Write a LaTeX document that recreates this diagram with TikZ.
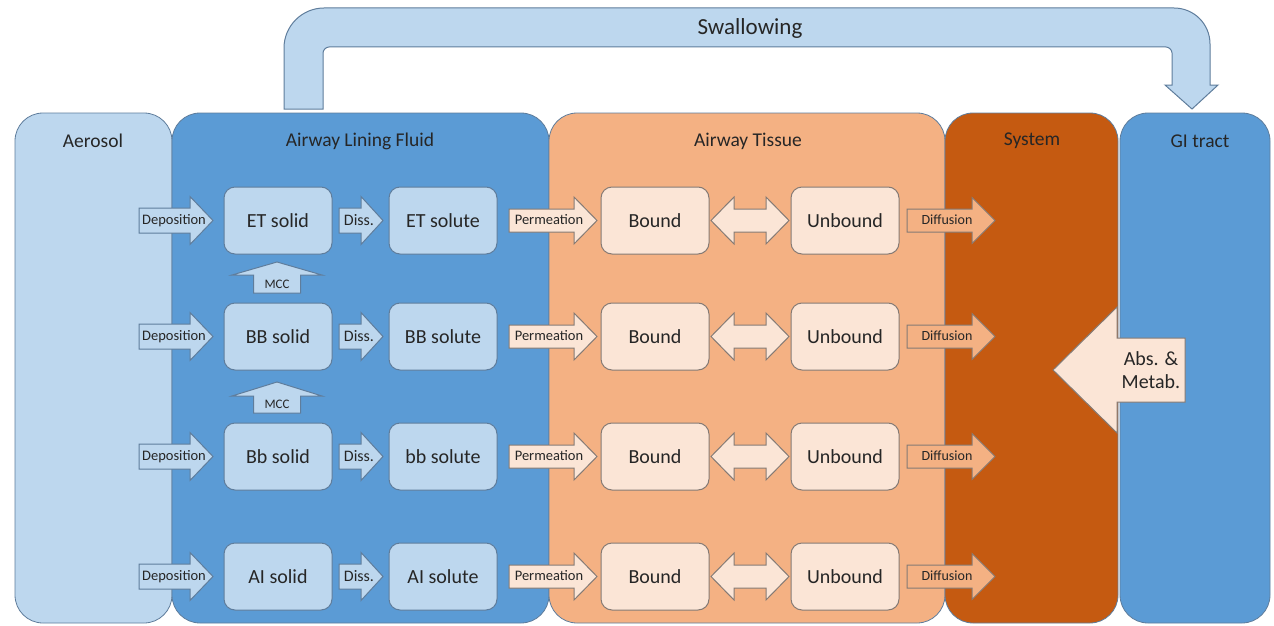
\documentclass[tikz,border=0pt]{standalone}
\usepackage{fontspec}
\setmainfont{Carlito}
\definecolor{aer}{HTML}{BDD7EE}
\definecolor{alf}{HTML}{5B9BD5}
\definecolor{tis}{HTML}{F4B183}
\definecolor{sys}{HTML}{C55A11}
\definecolor{pch}{HTML}{FBE5D6}
\definecolor{edge}{HTML}{5F7D9C}
\definecolor{pedge}{HTML}{857A74}
\definecolor{txt}{HTML}{262626}
\tikzset{
  panel/.style={draw=edge, line width=0.8pt, rounded corners=28pt},
  ptitle/.style={font=\fontsize{19.5}{22}\selectfont, text=txt},
  bbox/.style={draw=edge, line width=1pt, rounded corners=11pt, fill=aer,
    minimum width=108pt, minimum height=67pt, inner sep=0pt,
    font=\fontsize{20}{22}\selectfont, text=txt},
  pbox/.style={bbox, fill=pch, draw=pedge},
  alabel/.style={font=\fontsize{14.5}{16}\selectfont, text=txt, inner sep=0pt},
  barrow/.style={draw=edge, line width=1pt, fill=aer},
  parrow/.style={draw=pedge, line width=1pt, fill=pch},
  darrow/.style={draw=pedge, line width=1pt, fill=tis},
}
% style, tail x, head base x, tip x, y, body half, head half
\newcommand\rightblock[7]{%
  \path[#1] (#2,#5-#6) -- (#3,#5-#6) -- (#3,#5-#7) -- (#4,#5) -- (#3,#5+#7)
    -- (#3,#5+#6) -- (#2,#5+#6) -- cycle;}
% style, left tip, left base, right base, right tip, y, body half, head half
\newcommand\dblblock[8]{%
  \path[#1] (#2,#6) -- (#3,#6-#8) -- (#3,#6-#7) -- (#4,#6-#7) -- (#4,#6-#8)
    -- (#5,#6) -- (#4,#6+#8) -- (#4,#6+#7) -- (#3,#6+#7) -- (#3,#6+#8) -- cycle;}
\begin{document}
\begin{tikzpicture}[x=1pt, y=-1pt]
\fill[white] (0,0) rectangle (1274,626);
\useasboundingbox (0,0) rectangle (1274,626);

% panels
\path[panel, fill=aer] (15,113) rectangle (172,623);
\path[panel, fill=alf] (172,113) rectangle (549,623);
\path[panel, fill=tis] (549,113) rectangle (945,623);
\path[panel, fill=sys] (945,113) rectangle (1118,623);
\path[panel, fill=alf] (1120,113) rectangle (1270,623);

\node[ptitle] (taer) at (93,141) {Aerosol};
\node[ptitle] (talf) at (360,141) {Airway Lining Fluid};
\node[ptitle] (ttis) at (748,141) {Airway Tissue};
\node[ptitle] (tsys) at (1032,141) {System};
\node[ptitle] (tgi) at (1200,141) {GI tract};

% swallowing arrow
\path[barrow] (284,109) -- (284,48) .. controls (284,26) and (302,8) .. (324,8)
  -- (1174,8) .. controls (1194,8) and (1210,24) .. (1210,44)
  -- (1210,85) -- (1218,85) -- (1192,109) -- (1165,85) -- (1172,85)
  -- (1172,53) .. controls (1172,50) and (1169,47) .. (1166,47)
  -- (329,47) .. controls (326,47) and (323,50) .. (323,53) -- (323,109) -- cycle;
\node[font=\fontsize{23}{26}\selectfont, text=txt] (swl) at (750,28) {Swallowing};

% rows
\foreach \i/\y/\s/\t in {1/220.5/ET solid/ET solute, 2/336.5/BB solid/BB solute,
                          3/456.5/Bb solid/bb solute, 4/576.5/AI solid/AI solute}{
  \rightblock{barrow}{139}{190}{213}{\y}{12.5}{24}
  \rightblock{barrow}{339}{361}{383}{\y}{12.5}{24}
  \rightblock{parrow}{509}{574}{597}{\y}{11.5}{23.5}
  \dblblock{parrow}{711}{734}{766}{789}{\y}{11.5}{23.5}
  \rightblock{darrow}{907}{972}{995}{\y}{11.5}{23}
  \node[bbox] (sol\i) at (278,\y) {\s};
  \node[bbox] (slt\i) at (443,\y) {\t};
  \node[pbox] (bnd\i) at (655,\y) {Bound};
  \node[pbox] (unb\i) at (845,\y) {Unbound};
  \node[alabel] (dep\i) at (174,\y) {Deposition};
  \node[alabel, font=\fontsize{16}{18}\selectfont] (dis\i) at (359,\y) {Diss.};
  \node[alabel] (per\i) at (549,\y-1) {Permeation};
  \node[alabel, font=\fontsize{14}{16}\selectfont] (dif\i) at (947,\y-1) {Diffusion};
}

% MCC arrows
\path[barrow] (277,262) -- (322,275) -- (300.5,275) -- (300.5,293) -- (253.5,293)
  -- (253.5,275) -- (232,275) -- cycle;
\node[alabel, font=\fontsize{13}{15}\selectfont] (mcc1) at (277,284.5) {MCC};
\path[barrow] (277,382) -- (322,396) -- (300.5,396) -- (300.5,413) -- (253.5,413)
  -- (253.5,396) -- (232,396) -- cycle;
\node[alabel, font=\fontsize{13}{15}\selectfont] (mcc2) at (277,404.5) {MCC};

% absorption arrow
\path[parrow] (1053,370) -- (1117,307) -- (1117,338) -- (1185,338) -- (1185,402)
  -- (1117,402) -- (1117,433) -- cycle;
\node[font=\fontsize{20}{23}\selectfont, text=txt, align=center] (abs) at (1151,370) {Abs. \&\\Metab.};
\end{tikzpicture}
\end{document}
